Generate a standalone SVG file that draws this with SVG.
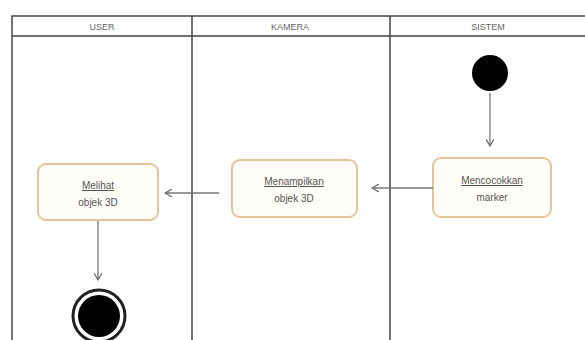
<svg xmlns="http://www.w3.org/2000/svg" width="585" height="340" viewBox="0 0 585 340">
<defs>
<marker id="ah" markerWidth="8" markerHeight="8" refX="7" refY="4" orient="auto" markerUnits="userSpaceOnUse">
<path d="M0,0 L7,4 L0,8" fill="none" stroke="#666" stroke-width="1.2"/>
</marker>
<style>
.lane{fill:none;stroke:#444;stroke-width:1.5}
.hdr{font-family:"Liberation Sans",Arial,sans-serif;font-size:9px;fill:#666;text-anchor:middle}
.box{fill:#fffdf8;stroke:#e6c49a;stroke-width:2}
.lbl{font-family:"Liberation Sans",Arial,sans-serif;font-size:10px;fill:#555;text-anchor:middle}
.conn{fill:none;stroke:#777;stroke-width:1.3;marker-end:url(#ah)}
</style>
</defs>
<rect width="585" height="340" fill="#fff"/>
<g id="swimlanes">
<path class="lane" d="M12,345 V16 H590 M12,36 H590 M192,16 V345 M390,16 V345"/>
<text class="hdr" x="102" y="30">USER</text>
<text class="hdr" x="290" y="30">KAMERA</text>
<text class="hdr" x="488" y="30">SISTEM</text>
</g>
<g id="start">
<circle cx="490" cy="73" r="18" fill="#000"/>
</g>
<g id="mencocokkan">
<rect class="box" x="433" y="158" width="118" height="59" rx="8"/>
<text class="lbl" x="492" y="184" text-decoration="underline">Mencocokkan</text>
<text class="lbl" x="492" y="201">marker</text>
</g>
<g id="menampilkan">
<rect class="box" x="232" y="160" width="125" height="57" rx="8"/>
<text class="lbl" x="294" y="185" text-decoration="underline">Menampilkan</text>
<text class="lbl" x="294" y="202">objek 3D</text>
</g>
<g id="melihat">
<rect class="box" x="38" y="164" width="120" height="56" rx="8"/>
<text class="lbl" x="98" y="189" text-decoration="underline">Melihat</text>
<text class="lbl" x="98" y="206">objek 3D</text>
</g>
<g id="end">
<circle cx="99" cy="316" r="26" fill="none" stroke="#222" stroke-width="3"/>
<circle cx="99" cy="316" r="21" fill="#000"/>
</g>
<g id="connectors">
<path class="conn" d="M490,93 V146"/>
<path class="conn" d="M433,188 H372"/>
<path class="conn" d="M219,193 H165"/>
<path class="conn" d="M98,221 V280"/>
</g>
</svg>
